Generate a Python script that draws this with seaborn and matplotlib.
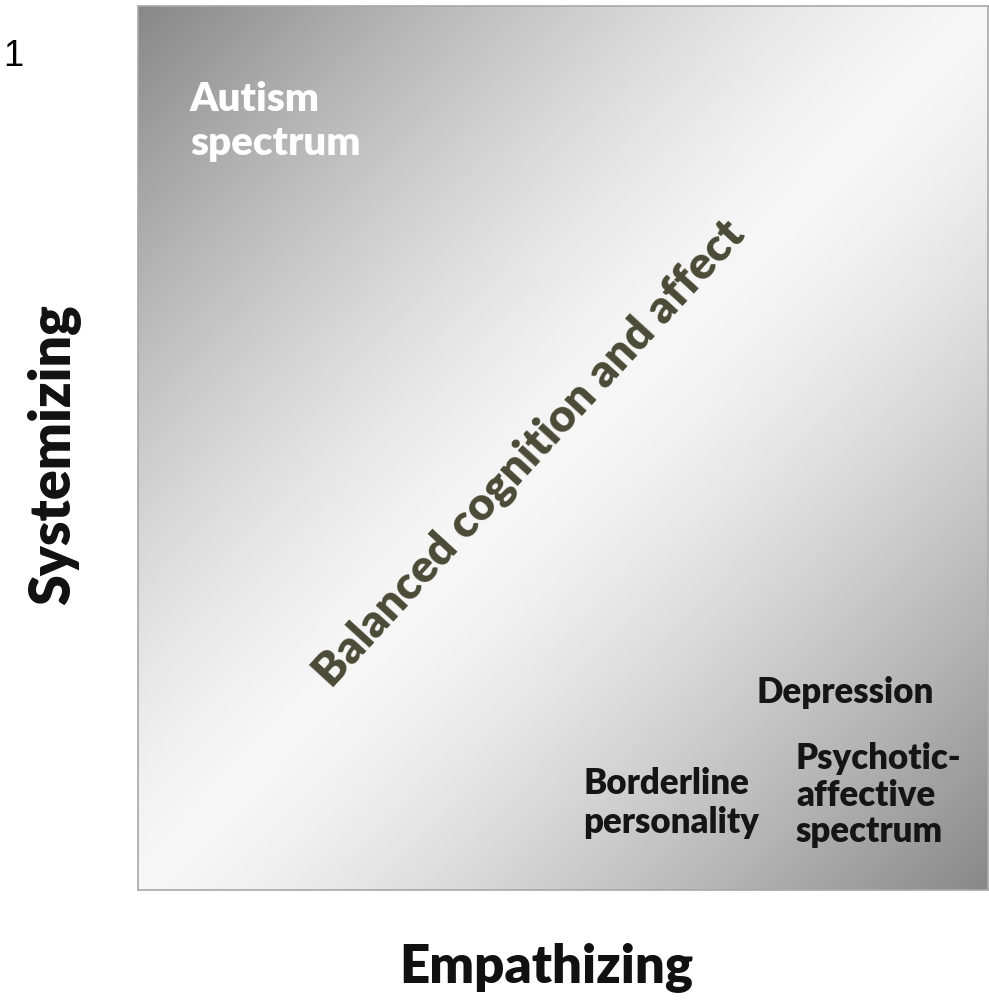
import numpy as np
import pandas as pd
import matplotlib
matplotlib.use("Agg")
import matplotlib.pyplot as plt
import seaborn as sns

# ---- content ----
panel_label = "1"
x_label = "Empathizing"
y_label = "Systemizing"
diag_label = "Balanced cognition and affect"
region_labels = ["Autism\nspectrum", "Depression", "Psychotic-\naffective\nspectrum",
                 "Borderline\npersonality"]
# positions in axes fraction (x: empathizing, y: systemizing)
region_x = [0.061, 0.728, 0.774, 0.524]
region_y = [0.915, 0.242, 0.167, 0.139]
region_colors = ["white", "#151515", "#151515", "#151515"]
region_sizes = [29, 25, 25, 25]
region_spacing = [1.22, 1.1, 1.13, 1.2]

# background shading levels (brightness at |x - y| distance 0 and 1)
shade_center = 0.965
shade_corner = 0.53

sns.set_theme(style="white")
plt.rcParams["font.family"] = ["Lato", "DejaVu Sans"]

fig = plt.figure(figsize=(9.89, 10.08), dpi=100)
ax = fig.add_axes([138 / 989, 1 - 890 / 1008, 850 / 989, 884 / 1008])

n = 300
g = np.linspace(0, 1, n)
X, Y = np.meshgrid(g, g[::-1])  # row 0 at top
d = np.abs(X - Y)
Z = shade_center - (shade_center - shade_corner) * d ** 1.35
sns.heatmap(pd.DataFrame(Z), ax=ax, cmap="gray", vmin=0, vmax=1, cbar=False,
            xticklabels=False, yticklabels=False, rasterized=True)
ax.set_xlabel("")
ax.set_ylabel("")
for s in ax.spines.values():
    s.set_visible(True)
    s.set_color("#a8a8a8")
    s.set_linewidth(1.2)

for lab, x, y, c, fs, ls in zip(region_labels, region_x, region_y, region_colors,
                                region_sizes, region_spacing):
    ax.text(x, y, lab, transform=ax.transAxes, ha="left", va="top", color=c,
            fontsize=fs, fontweight="heavy", linespacing=ls)

ax.text(0.4605, 0.494, diag_label, transform=ax.transAxes, ha="center", va="center",
        rotation=47.5, rotation_mode="anchor", color="#4a4a36", fontsize=33,
        fontweight="heavy")

fig.text(3 / 989, 1 - 56 / 1008, panel_label, ha="left", va="center",
         fontsize=26, color="black", family=["Liberation Sans", "DejaVu Sans"])
fig.text(546 / 989, 1 - 968 / 1008, x_label, ha="center", va="center",
         fontsize=38, fontweight="heavy", color="#111111")
fig.text(54 / 989, 1 - 455 / 1008, y_label, ha="center", va="center", rotation=90,
         fontsize=40, fontweight="heavy", color="#111111")

fig.savefig("out.png", dpi=100, facecolor="white")
